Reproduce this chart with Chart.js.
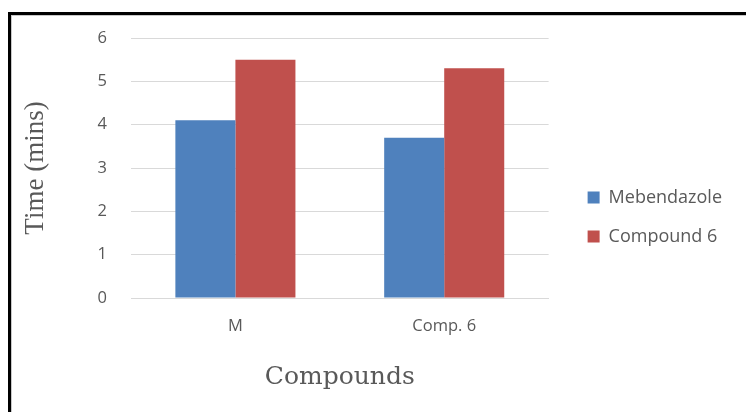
<!DOCTYPE html>
<html>
<head>
<meta charset="utf-8">
<script src="https://cdn.jsdelivr.net/npm/chart.js@4.4.0/dist/chart.umd.min.js"></script>
<style>
  html, body { margin: 0; padding: 0; background: #fff; }
  #wrap { position: relative; width: 746px; height: 412px; overflow: hidden; }
  #chart { position: absolute; left: 0; top: 0; }
  #frame {
    position: absolute; left: 8px; top: 12px; width: 800px; height: 500px;
    border-left: 3px solid #000; border-top: 3px solid #000;
    box-shadow: inset 1px 1px 0 #c8c8c8;
    pointer-events: none;
  }
</style>
</head>
<body>
<div id="wrap">
  <canvas id="chart" width="746" height="412"></canvas>
  <div id="frame"></div>
</div>
<script>
  const categories = ["M", "Comp. 6"];
  const mebendazole = [4.1, 3.7];
  const compound6 = [5.5, 5.3];
  const yTicks = [0, 1, 2, 3, 4, 5, 6];

  const tickColor = "#595959";
  const tickFont = { family: "Open Sans", size: 16.5 };

  // nudge the legend so the gap to the plot matches the item spacing
  const legendShift = {
    id: "legendShift",
    afterLayout: (c) => {
      if (!c.legend) return;
      c.legend.left += 18;
      c.legend.right += 18;
      c.legend.top -= 8;
      c.legend.bottom -= 8;
    },
  };

  const ctx = document.getElementById("chart");
  const chart = new Chart(ctx, {
    type: "bar",
    data: {
      labels: categories,
      datasets: [
        {
          label: "Mebendazole",
          data: mebendazole,
          backgroundColor: "#4f81bd",
          categoryPercentage: 0.575,
          barPercentage: 1,
        },
        {
          label: "Compound 6",
          data: compound6,
          backgroundColor: "#c0504d",
          categoryPercentage: 0.575,
          barPercentage: 1,
        },
      ],
    },
    plugins: [legendShift],
    options: {
      responsive: false,
      animation: false,
      layout: { padding: { top: 38, right: 32, left: 0, bottom: 0 } },
      plugins: {
        legend: {
          position: "right",
          labels: {
            font: { family: "Open Sans", size: 18 },
            color: tickColor,
            boxWidth: 12,
            boxHeight: 12,
            padding: 21,
          },
        },
        tooltip: { enabled: false },
      },
      scales: {
        x: {
          grid: { display: false },
          border: { color: "#d9d9d9" },
          ticks: { font: tickFont, color: tickColor, padding: 10 },
          title: {
            display: true,
            text: "Compounds",
            font: { family: "DejaVu Serif", size: 25 },
            color: tickColor,
            padding: { top: 18, bottom: 20 },
          },
          afterFit: (scale) => { scale.height = 114; },
        },
        y: {
          min: 0,
          max: 6,
          afterBuildTicks: (scale) => {
            scale.ticks = yTicks.map((v) => ({ value: v }));
          },
          grid: { color: "#d9d9d9", drawTicks: false },
          border: { display: false },
          ticks: { font: tickFont, color: tickColor, padding: 24 },
          title: {
            display: true,
            text: "Time (mins)",
            font: { family: "Liberation Serif", size: 27 },
            color: tickColor,
            padding: { top: 20, bottom: 0 },
          },
          afterFit: (scale) => { scale.width = 131; },
        },
      },
    },
  });
</script>
</body>
</html>
